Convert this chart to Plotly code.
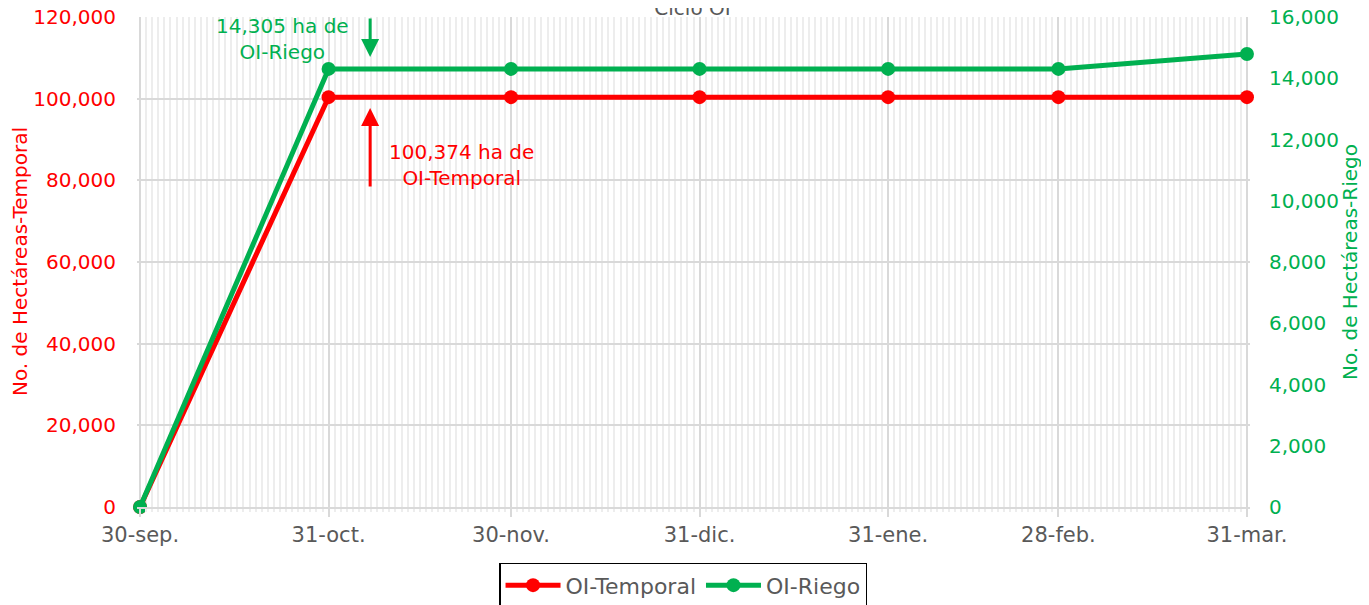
import plotly.graph_objects as go

dates = ["2024-09-30", "2024-10-31", "2024-11-30", "2024-12-31",
         "2025-01-31", "2025-02-28", "2025-03-31"]
tick_labels = ["30-sep.", "31-oct.", "30-nov.", "31-dic.", "31-ene.", "28-feb.", "31-mar."]
temporal = [0, 100374, 100374, 100374, 100374, 100374, 100374]
riego = [0, 14305, 14305, 14305, 14305, 14305, 14790]

RED = "#FF0000"
GREEN = "#00B050"
GRAY = "#595959"
FONT = "DejaVu Sans"
FS = 21

fig = go.Figure()
fig.add_trace(go.Scatter(
    x=dates, y=temporal, name="OI-Temporal", mode="lines+markers",
    line=dict(color=RED, width=5), marker=dict(color=RED, size=14),
    cliponaxis=False, yaxis="y"))
fig.add_trace(go.Scatter(
    x=dates, y=riego, name="OI-Riego", mode="lines+markers",
    line=dict(color=GREEN, width=5), marker=dict(color=GREEN, size=14),
    cliponaxis=False, yaxis="y2"))

fig.update_layout(
    width=1369, height=605,
    margin=dict(l=129, r=127, t=9, b=106, autoexpand=False),
    paper_bgcolor="white", plot_bgcolor="white",
    font=dict(family=FONT, size=FS, color=GRAY),
    title=dict(text="Ciclo OI", x=0.5, xanchor="center", y=1.0, yanchor="middle",
               automargin=False,
               font=dict(family=FONT, size=20, color=GRAY)),
    xaxis=dict(
        type="date", automargin=False,
        range=["2024-09-29 12:00", "2025-03-31 12:00"],
        tickmode="array", tickvals=dates, ticktext=tick_labels,
        showgrid=True, gridcolor="#D9D9D9", gridwidth=1.5,
        ticks="outside", ticklen=8, tickcolor="#D9D9D9", tickwidth=1.5,
        tickfont=dict(family=FONT, size=FS, color=GRAY),
        showline=True, linecolor="#D9D9D9", linewidth=1.5,
        minor=dict(tick0="2024-09-30", dtick=86400000, showgrid=True,
                   gridcolor="#EDEDED", gridwidth=1.5,
                   ticks="outside", ticklen=3, tickcolor="#EDEDED"),
        zeroline=False,
    ),
    yaxis=dict(
        range=[0, 120000], dtick=20000, tickformat=",", automargin=False,
        showgrid=True, gridcolor="#D9D9D9", gridwidth=1.5,
        tickfont=dict(family=FONT, size=20, color=RED),
        ticklabelstandoff=20, ticklabeloverflow="allow", zeroline=False,
    ),
    yaxis2=dict(
        range=[0, 16000], dtick=2000, tickformat=",", automargin=False,
        overlaying="y", side="right", showgrid=False,
        tickfont=dict(family=FONT, size=20, color=GREEN),
        ticklabelstandoff=18, ticklabeloverflow="allow", zeroline=False,
    ),
    legend=dict(
        orientation="h", x=0.4906, xanchor="center", y=-0.114, yanchor="top",
        bgcolor="white", bordercolor="black", borderwidth=1.5,
        itemwidth=55,
        font=dict(family=FONT, size=22, color=GRAY),
    ),
)

fig.add_annotation(text="No. de Hectáreas-Temporal", textangle=-90,
                   xref="paper", yref="paper", x=-0.1051, y=0.5,
                   xanchor="center", yanchor="middle",
                   showarrow=False, font=dict(family=FONT, size=20, color=RED))
fig.add_annotation(text="No. de Hectáreas-Riego", textangle=-90,
                   xref="paper", yref="paper", x=1.0899, y=0.5,
                   xanchor="center", yanchor="middle",
                   showarrow=False, font=dict(family=FONT, size=20, color=GREEN))

fig.add_annotation(text="14,305 ha de<br>OI-Riego", xref="paper", yref="paper",
                   x=0.131, y=0.955, xanchor="center", yanchor="middle",
                   showarrow=False, align="center",
                   font=dict(family=FONT, size=20, color=GREEN))
fig.add_annotation(text="100,374 ha de<br>OI-Temporal", xref="paper", yref="paper",
                   x=0.292, y=0.698, xanchor="center", yanchor="middle",
                   showarrow=False, align="center",
                   font=dict(family=FONT, size=20, color=RED))

fig.add_annotation(x="2024-11-06 20:00", y=14694, xref="x", yref="y2", text="",
                   showarrow=True, arrowhead=2, arrowsize=1.2, arrowwidth=3,
                   arrowcolor=GREEN, ax=0, ay=-40)
fig.add_annotation(x="2024-11-06 20:00", y=97714, xref="x", yref="y", text="",
                   showarrow=True, arrowhead=2, arrowsize=1.2, arrowwidth=3,
                   arrowcolor=RED, ax=0, ay=80)

fig.write_html("out.html")
